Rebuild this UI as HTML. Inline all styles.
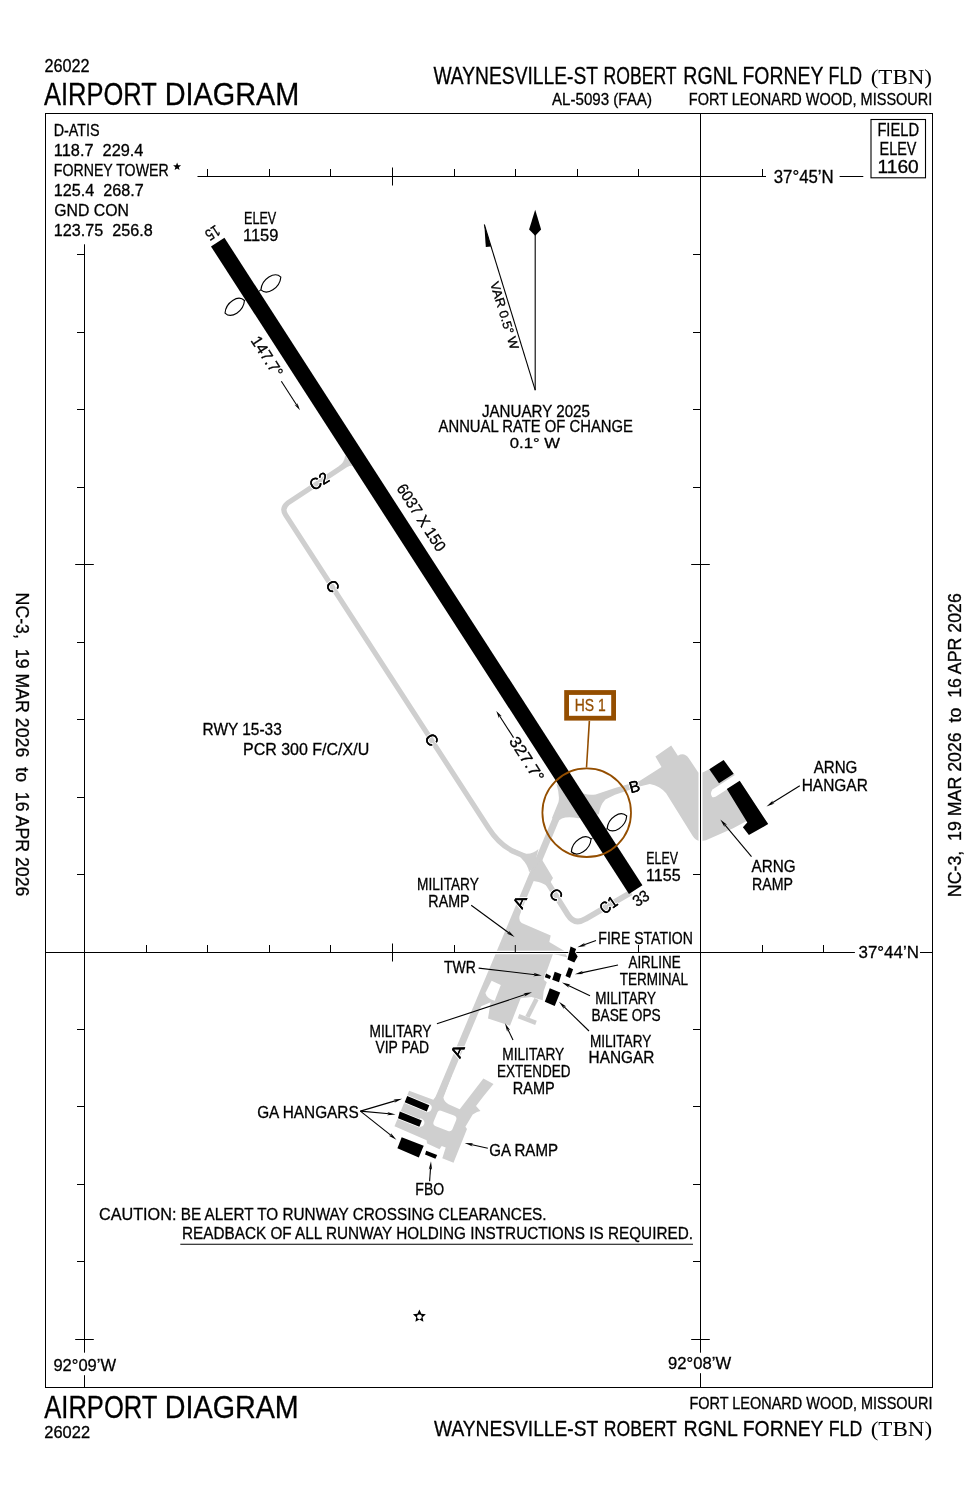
<!DOCTYPE html><html><head><meta charset="utf-8"><style>html,body{margin:0;padding:0;background:#fff}svg{display:block;will-change:transform}</style></head><body><svg width="978" height="1500" viewBox="0 0 978 1500">
<rect width="978" height="1500" fill="#fff"/>
<text x="44.38" y="72.10" font-size="17.44" font-family='"Liberation Sans", sans-serif' textLength="45.24" lengthAdjust="spacingAndGlyphs" fill="#000" stroke="#000" stroke-width="0.3" style="white-space:pre" >26022</text>
<text x="44.05" y="104.80" font-size="31.83" font-family='"Liberation Sans", sans-serif' textLength="112.73" lengthAdjust="spacingAndGlyphs" fill="#000" stroke="#000" stroke-width="0.3" style="white-space:pre" >AIRPORT</text>
<text x="164.63" y="104.80" font-size="31.83" font-family='"Liberation Sans", sans-serif' textLength="134.63" lengthAdjust="spacingAndGlyphs" fill="#000" stroke="#000" stroke-width="0.3" style="white-space:pre" >DIAGRAM</text>
<text x="433.42" y="84.00" font-size="23.26" font-family='"Liberation Sans", sans-serif' textLength="164.62" lengthAdjust="spacingAndGlyphs" fill="#000" stroke="#000" stroke-width="0.3" style="white-space:pre" >WAYNESVILLE-ST</text>
<text x="603.56" y="84.00" font-size="23.26" font-family='"Liberation Sans", sans-serif' textLength="73.04" lengthAdjust="spacingAndGlyphs" fill="#000" stroke="#000" stroke-width="0.3" style="white-space:pre" >ROBERT</text>
<text x="683.30" y="84.00" font-size="23.26" font-family='"Liberation Sans", sans-serif' textLength="54.35" lengthAdjust="spacingAndGlyphs" fill="#000" stroke="#000" stroke-width="0.3" style="white-space:pre" >RGNL</text>
<text x="742.51" y="84.00" font-size="23.26" font-family='"Liberation Sans", sans-serif' textLength="80.82" lengthAdjust="spacingAndGlyphs" fill="#000" stroke="#000" stroke-width="0.3" style="white-space:pre" >FORNEY</text>
<text x="828.55" y="84.00" font-size="23.26" font-family='"Liberation Sans", sans-serif' textLength="33.50" lengthAdjust="spacingAndGlyphs" fill="#000" stroke="#000" stroke-width="0.3" style="white-space:pre" >FLD</text>
<text x="870.69" y="84.00" font-size="21.68" font-family='"Liberation Serif", serif' textLength="61.32" lengthAdjust="spacingAndGlyphs" fill="#000"  style="white-space:pre" >(TBN)</text>
<text x="551.97" y="104.50" font-size="15.99" font-family='"Liberation Sans", sans-serif' textLength="99.96" lengthAdjust="spacingAndGlyphs" fill="#000" stroke="#000" stroke-width="0.3" style="white-space:pre" >AL-5093 (FAA)</text>
<text x="688.81" y="104.50" font-size="15.99" font-family='"Liberation Sans", sans-serif' textLength="243.52" lengthAdjust="spacingAndGlyphs" fill="#000" stroke="#000" stroke-width="0.3" style="white-space:pre" >FORT LEONARD WOOD, MISSOURI</text>
<text x="44.25" y="1417.80" font-size="31.83" font-family='"Liberation Sans", sans-serif' textLength="113.13" lengthAdjust="spacingAndGlyphs" fill="#000" stroke="#000" stroke-width="0.3" style="white-space:pre" >AIRPORT</text>
<text x="164.85" y="1417.80" font-size="31.83" font-family='"Liberation Sans", sans-serif' textLength="133.91" lengthAdjust="spacingAndGlyphs" fill="#000" stroke="#000" stroke-width="0.3" style="white-space:pre" >DIAGRAM</text>
<text x="44.37" y="1438.00" font-size="16.72" font-family='"Liberation Sans", sans-serif' textLength="45.65" lengthAdjust="spacingAndGlyphs" fill="#000" stroke="#000" stroke-width="0.3" style="white-space:pre" >26022</text>
<text x="689.42" y="1408.90" font-size="15.70" font-family='"Liberation Sans", sans-serif' textLength="243.12" lengthAdjust="spacingAndGlyphs" fill="#000" stroke="#000" stroke-width="0.3" style="white-space:pre" >FORT LEONARD WOOD, MISSOURI</text>
<text x="434.02" y="1435.50" font-size="22.67" font-family='"Liberation Sans", sans-serif' textLength="164.22" lengthAdjust="spacingAndGlyphs" fill="#000" stroke="#000" stroke-width="0.3" style="white-space:pre" >WAYNESVILLE-ST</text>
<text x="603.76" y="1435.50" font-size="22.67" font-family='"Liberation Sans", sans-serif' textLength="73.04" lengthAdjust="spacingAndGlyphs" fill="#000" stroke="#000" stroke-width="0.3" style="white-space:pre" >ROBERT</text>
<text x="683.50" y="1435.50" font-size="22.67" font-family='"Liberation Sans", sans-serif' textLength="54.35" lengthAdjust="spacingAndGlyphs" fill="#000" stroke="#000" stroke-width="0.3" style="white-space:pre" >RGNL</text>
<text x="742.71" y="1435.50" font-size="22.67" font-family='"Liberation Sans", sans-serif' textLength="80.82" lengthAdjust="spacingAndGlyphs" fill="#000" stroke="#000" stroke-width="0.3" style="white-space:pre" >FORNEY</text>
<text x="828.75" y="1435.50" font-size="22.67" font-family='"Liberation Sans", sans-serif' textLength="33.50" lengthAdjust="spacingAndGlyphs" fill="#000" stroke="#000" stroke-width="0.3" style="white-space:pre" >FLD</text>
<text x="870.69" y="1435.50" font-size="21.68" font-family='"Liberation Serif", serif' textLength="61.53" lengthAdjust="spacingAndGlyphs" fill="#000"  style="white-space:pre" >(TBN)</text>
<text transform="translate(16.00,594.00) rotate(90.00)" x="-1.45" y="0" font-size="18.90" font-family='"Liberation Sans", sans-serif' textLength="303.93" lengthAdjust="spacingAndGlyphs" fill="#000" style="white-space:pre" stroke="#000" stroke-width="0.3">NC-3,  19 MAR 2026  to  16 APR 2026</text>
<text transform="translate(961.00,895.70) rotate(-90.00)" x="-1.45" y="0" font-size="18.90" font-family='"Liberation Sans", sans-serif' textLength="303.93" lengthAdjust="spacingAndGlyphs" fill="#000" style="white-space:pre" stroke="#000" stroke-width="0.3">NC-3,  19 MAR 2026  to  16 APR 2026</text>
<rect x="45.5" y="113.5" width="887" height="1274" fill="none" stroke="#000" stroke-width="1"/>
<text x="53.65" y="136.30" font-size="16.72" font-family='"Liberation Sans", sans-serif' textLength="46.00" lengthAdjust="spacingAndGlyphs" fill="#000" stroke="#000" stroke-width="0.3" style="white-space:pre" >D-ATIS</text>
<text x="53.87" y="156.20" font-size="16.72" font-family='"Liberation Sans", sans-serif' textLength="89.60" lengthAdjust="spacingAndGlyphs" fill="#000" stroke="#000" stroke-width="0.3" style="white-space:pre" >118.7  229.4</text>
<text x="53.85" y="176.30" font-size="16.72" font-family='"Liberation Sans", sans-serif' textLength="114.81" lengthAdjust="spacingAndGlyphs" fill="#000" stroke="#000" stroke-width="0.3" style="white-space:pre" >FORNEY TOWER</text>
<text x="53.87" y="196.20" font-size="16.72" font-family='"Liberation Sans", sans-serif' textLength="89.95" lengthAdjust="spacingAndGlyphs" fill="#000" stroke="#000" stroke-width="0.3" style="white-space:pre" >125.4  268.7</text>
<text x="54.20" y="215.90" font-size="16.72" font-family='"Liberation Sans", sans-serif' textLength="74.69" lengthAdjust="spacingAndGlyphs" fill="#000" stroke="#000" stroke-width="0.3" style="white-space:pre" >GND CON</text>
<text x="53.87" y="236.10" font-size="16.72" font-family='"Liberation Sans", sans-serif' textLength="98.83" lengthAdjust="spacingAndGlyphs" fill="#000" stroke="#000" stroke-width="0.3" style="white-space:pre" >123.75  256.8</text>
<polygon points="177.10,162.40 178.16,165.14 181.09,165.30 178.81,167.16 179.57,170.00 177.10,168.40 174.63,170.00 175.39,167.16 173.11,165.30 176.04,165.14" fill="#000" />
<polygon points="419.40,1309.50 421.34,1313.63 425.87,1314.20 422.54,1317.32 423.40,1321.80 419.40,1319.60 415.40,1321.80 416.26,1317.32 412.93,1314.20 417.46,1313.63" fill="#000" />
<circle cx="419.4" cy="1316.8" r="2.4" fill="#fff"/>
<rect x="871" y="119.5" width="54.5" height="58.3" fill="none" stroke="#000" stroke-width="1.1"/>
<text x="877.40" y="136.20" font-size="17.88" font-family='"Liberation Sans", sans-serif' textLength="41.61" lengthAdjust="spacingAndGlyphs" fill="#000" stroke="#000" stroke-width="0.3" style="white-space:pre" >FIELD</text>
<text x="879.52" y="154.60" font-size="17.88" font-family='"Liberation Sans", sans-serif' textLength="36.85" lengthAdjust="spacingAndGlyphs" fill="#000" stroke="#000" stroke-width="0.3" style="white-space:pre" >ELEV</text>
<text x="877.59" y="173.00" font-size="17.88" font-family='"Liberation Sans", sans-serif' textLength="41.13" lengthAdjust="spacingAndGlyphs" fill="#000" stroke="#000" stroke-width="0.3" style="white-space:pre" >1160</text>
<line x1="197.50" y1="176.50" x2="766.00" y2="176.50" stroke="#000" stroke-width="1" />
<line x1="839.60" y1="176.50" x2="863.30" y2="176.50" stroke="#000" stroke-width="1" />
<text x="773.76" y="182.60" font-size="17.73" font-family='"Liberation Sans", sans-serif' textLength="60.01" lengthAdjust="spacingAndGlyphs" fill="#000" stroke="#000" stroke-width="0.3" style="white-space:pre" >37°45’N</text>
<line x1="207.50" y1="169.00" x2="207.50" y2="176.50" stroke="#000" stroke-width="1" />
<line x1="269.50" y1="169.00" x2="269.50" y2="176.50" stroke="#000" stroke-width="1" />
<line x1="330.50" y1="169.00" x2="330.50" y2="176.50" stroke="#000" stroke-width="1" />
<line x1="392.50" y1="167.50" x2="392.50" y2="185.50" stroke="#000" stroke-width="1" />
<line x1="454.50" y1="169.00" x2="454.50" y2="176.50" stroke="#000" stroke-width="1" />
<line x1="515.50" y1="169.00" x2="515.50" y2="176.50" stroke="#000" stroke-width="1" />
<line x1="577.50" y1="169.00" x2="577.50" y2="176.50" stroke="#000" stroke-width="1" />
<line x1="638.50" y1="169.00" x2="638.50" y2="176.50" stroke="#000" stroke-width="1" />
<line x1="762.50" y1="169.00" x2="762.50" y2="176.50" stroke="#000" stroke-width="1" />
<line x1="84.50" y1="244.30" x2="84.50" y2="1352.70" stroke="#000" stroke-width="1" />
<line x1="84.50" y1="1375.20" x2="84.50" y2="1387.50" stroke="#000" stroke-width="1" />
<line x1="700.50" y1="113.50" x2="700.50" y2="1352.70" stroke="#000" stroke-width="1" />
<line x1="700.50" y1="1373.20" x2="700.50" y2="1387.50" stroke="#000" stroke-width="1" />
<line x1="77.00" y1="254.50" x2="84.50" y2="254.50" stroke="#000" stroke-width="1" />
<line x1="693.00" y1="254.50" x2="700.50" y2="254.50" stroke="#000" stroke-width="1" />
<line x1="77.00" y1="332.50" x2="84.50" y2="332.50" stroke="#000" stroke-width="1" />
<line x1="693.00" y1="332.50" x2="700.50" y2="332.50" stroke="#000" stroke-width="1" />
<line x1="77.00" y1="409.50" x2="84.50" y2="409.50" stroke="#000" stroke-width="1" />
<line x1="693.00" y1="409.50" x2="700.50" y2="409.50" stroke="#000" stroke-width="1" />
<line x1="77.00" y1="487.50" x2="84.50" y2="487.50" stroke="#000" stroke-width="1" />
<line x1="693.00" y1="487.50" x2="700.50" y2="487.50" stroke="#000" stroke-width="1" />
<line x1="75.20" y1="564.50" x2="93.80" y2="564.50" stroke="#000" stroke-width="1" />
<line x1="691.20" y1="564.50" x2="709.80" y2="564.50" stroke="#000" stroke-width="1" />
<line x1="77.00" y1="642.50" x2="84.50" y2="642.50" stroke="#000" stroke-width="1" />
<line x1="693.00" y1="642.50" x2="700.50" y2="642.50" stroke="#000" stroke-width="1" />
<line x1="77.00" y1="719.50" x2="84.50" y2="719.50" stroke="#000" stroke-width="1" />
<line x1="693.00" y1="719.50" x2="700.50" y2="719.50" stroke="#000" stroke-width="1" />
<line x1="77.00" y1="797.50" x2="84.50" y2="797.50" stroke="#000" stroke-width="1" />
<line x1="693.00" y1="797.50" x2="700.50" y2="797.50" stroke="#000" stroke-width="1" />
<line x1="77.00" y1="874.50" x2="84.50" y2="874.50" stroke="#000" stroke-width="1" />
<line x1="693.00" y1="874.50" x2="700.50" y2="874.50" stroke="#000" stroke-width="1" />
<line x1="77.00" y1="1029.50" x2="84.50" y2="1029.50" stroke="#000" stroke-width="1" />
<line x1="693.00" y1="1029.50" x2="700.50" y2="1029.50" stroke="#000" stroke-width="1" />
<line x1="77.00" y1="1106.50" x2="84.50" y2="1106.50" stroke="#000" stroke-width="1" />
<line x1="693.00" y1="1106.50" x2="700.50" y2="1106.50" stroke="#000" stroke-width="1" />
<line x1="77.00" y1="1184.50" x2="84.50" y2="1184.50" stroke="#000" stroke-width="1" />
<line x1="693.00" y1="1184.50" x2="700.50" y2="1184.50" stroke="#000" stroke-width="1" />
<line x1="77.00" y1="1261.50" x2="84.50" y2="1261.50" stroke="#000" stroke-width="1" />
<line x1="693.00" y1="1261.50" x2="700.50" y2="1261.50" stroke="#000" stroke-width="1" />
<line x1="75.20" y1="1339.50" x2="93.80" y2="1339.50" stroke="#000" stroke-width="1" />
<line x1="691.20" y1="1339.50" x2="709.80" y2="1339.50" stroke="#000" stroke-width="1" />
<line x1="45.50" y1="952.50" x2="854.90" y2="952.50" stroke="#000" stroke-width="1" />
<line x1="920.00" y1="952.50" x2="932.00" y2="952.50" stroke="#000" stroke-width="1" />
<text x="858.56" y="958.20" font-size="16.72" font-family='"Liberation Sans", sans-serif' textLength="60.32" lengthAdjust="spacingAndGlyphs" fill="#000" stroke="#000" stroke-width="0.3" style="white-space:pre" >37°44’N</text>
<line x1="146.50" y1="945.00" x2="146.50" y2="952.50" stroke="#000" stroke-width="1" />
<line x1="207.50" y1="945.00" x2="207.50" y2="952.50" stroke="#000" stroke-width="1" />
<line x1="269.50" y1="945.00" x2="269.50" y2="952.50" stroke="#000" stroke-width="1" />
<line x1="330.50" y1="945.00" x2="330.50" y2="952.50" stroke="#000" stroke-width="1" />
<line x1="392.50" y1="943.50" x2="392.50" y2="961.50" stroke="#000" stroke-width="1" />
<line x1="454.50" y1="945.00" x2="454.50" y2="952.50" stroke="#000" stroke-width="1" />
<line x1="515.50" y1="945.00" x2="515.50" y2="952.50" stroke="#000" stroke-width="1" />
<line x1="638.50" y1="945.00" x2="638.50" y2="952.50" stroke="#000" stroke-width="1" />
<line x1="762.50" y1="945.00" x2="762.50" y2="952.50" stroke="#000" stroke-width="1" />
<line x1="823.50" y1="945.00" x2="823.50" y2="952.50" stroke="#000" stroke-width="1" />
<text x="53.43" y="1370.60" font-size="17.30" font-family='"Liberation Sans", sans-serif' textLength="62.63" lengthAdjust="spacingAndGlyphs" fill="#000" stroke="#000" stroke-width="0.3" style="white-space:pre" >92°09’W</text>
<text x="668.12" y="1369.00" font-size="16.57" font-family='"Liberation Sans", sans-serif' textLength="62.94" lengthAdjust="spacingAndGlyphs" fill="#000" stroke="#000" stroke-width="0.3" style="white-space:pre" >92°08’W</text>
<path d="M 351.5,461 L 287.6,503.2 Q 281.3,508.2 285.6,514.9 L 488.5,828 Q 500,846 516,852.5 L 536,861" fill="none" stroke="#cfcfcf" stroke-width="5.2" stroke-linejoin="round" stroke-linecap="butt"/>
<path d="M 566.00,795 L 437.18,1102" fill="none" stroke="#cfcfcf" stroke-width="7.0" stroke-linejoin="round" stroke-linecap="butt"/>
<path d="M 536,864 L 568,915 Q 574.8,925.5 585.5,918.9 L 631,892.5" fill="none" stroke="#cfcfcf" stroke-width="5.8" stroke-linejoin="round" stroke-linecap="butt"/>
<path d="M 556.4,783.9 Q 560,795 558.5,802 L 552,818 L 557.2,822.4 Q 562,815 578.4,818.3 L 598.9,814.2 Q 600,805 605.4,799.4 L 615,794.7 L 639.5,786.5 L 649.8,784 Q 660,786 666.1,793.2 L 692.7,836.1 Q 695.5,840.5 699.9,841.2 L 706,840.2 L 733.2,828.2 L 746.1,821.3 L 768.2,824.1 L 739.7,780.8 L 733.7,773.7 L 709.3,769.3 L 699.9,773.7 L 697.8,771.7 L 688.6,757.9 Q 684,752 677.9,755.8 L 671.2,745.6 L 655.4,756.4 L 661.5,767.1 L 639.5,780.9 L 615,788.1 L 595.6,794.5 Q 589,795.5 584.2,793.7 Z" fill="#cfcfcf"/>
<path d="M 345.2,455.2 Q 344.5,462.5 338.6,466.4 L 348.2,466.4 Q 349.6,465.5 352.3,465.8 Z" fill="#cfcfcf"/>
<path d="M 514,849 L 523.4,853.4 Q 532,855 538.5,849 L 534,866 L 529.1,872.2 Q 528,865 521.5,858.5 Z" fill="#cfcfcf"/>
<path d="M 525,885 Q 531,879.5 536,881.4 Q 541,882 548,886.4 L 553,878 L 541,858 Z" fill="#cfcfcf"/>
<path d="M 519.85,905 L 520.71,912.5 Q 517.5,920 521.7,923.1 L 550.7,935.5 L 549.3,941.9 L 564,950.7 L 567.5,957.5 L 558,955 L 553,953.9 L 543.7,979.8 L 546.8,982.3 L 543.7,991 L 542.7,1000.2 L 531.5,997.1 L 520.7,998.2 L 510,1025.8 L 488,1018.6 L 490.6,1002.3 L 481.14,1006.3 L 477.34,1006.3 L 500.96,950 Z" fill="#cfcfcf"/>
<path d="M 536.5,999 L 527.4,1017" fill="none" stroke="#cfcfcf" stroke-width="4.6" stroke-linejoin="round" stroke-linecap="butt"/>
<path d="M 518.5,1016.2 L 536,1022.8" fill="none" stroke="#cfcfcf" stroke-width="4.6" stroke-linejoin="round" stroke-linecap="butt"/>
<path d="M 491.6,980.8 L 500.8,984.9 L 494.7,1000.7 Q 487,999 485.4,993.1 Z" fill="#fff"/>
<path d="M 409.1,1090.7 L 433.3,1099.7 Q 436,1097 437.2,1094.1 L 446.2,1075 L 451.9,1075 L 443.4,1097.5 Q 444,1101.5 448.5,1104.2 L 459.7,1109.3 L 483.4,1078.4 L 493.5,1084 L 483.9,1095.8 L 476,1105.9 L 480.5,1111 L 477,1112 L 472.7,1114.4 L 465.4,1126.7 L 467,1129 L 453.5,1162.7 L 442.3,1158.2 L 445.7,1147.5 L 441.7,1145.9 L 439.5,1149.2 L 427.1,1143.6 L 426.6,1140.2 L 394.5,1126.2 Z" fill="#cfcfcf"/>
<path d="M 441,1110.8 L 454,1115.6 Q 457.3,1117 456.2,1120 L 452.3,1129.5 Q 451,1132 448,1131 L 435.8,1126.2 Q 432.6,1125 433.5,1122 L 437.5,1112.3 Q 438.6,1110 441,1110.8 Z" fill="#fff"/>
<line x1="700.50" y1="740.00" x2="700.50" y2="850.00" stroke="#fff" stroke-width="4" />
<line x1="700.50" y1="740.00" x2="700.50" y2="850.00" stroke="#000" stroke-width="1" />
<line x1="460.00" y1="952.50" x2="580.00" y2="952.50" stroke="#fff" stroke-width="3.5" />
<line x1="460.00" y1="952.50" x2="580.00" y2="952.50" stroke="#000" stroke-width="1" />
<line x1="515.30" y1="945.00" x2="515.30" y2="952.50" stroke="#000" stroke-width="1" />
<polygon points="224.42,237.76 210.98,246.44 628.98,894.04 642.42,885.36" fill="#000" />
<path d="M 225.05,313.05 C 231.27,319.28 243.69,311.26 244.46,300.52 C 238.24,294.30 225.82,302.32 225.05,313.05 Z" fill="none" stroke="#000" stroke-width="1.15" stroke-linejoin="miter" stroke-miterlimit="10"/>
<path d="M 260.93,289.90 C 267.19,296.09 279.93,287.87 280.84,277.04 C 274.58,270.85 261.84,279.07 260.93,289.90 Z" fill="none" stroke="#000" stroke-width="1.15" stroke-linejoin="miter" stroke-miterlimit="10"/>
<line x1="244.46" y1="300.52" x2="245.47" y2="299.87" stroke="#000" stroke-width="1" />
<line x1="258.91" y1="291.20" x2="260.93" y2="289.90" stroke="#000" stroke-width="1" />
<path d="M 571.34,851.76 C 577.58,857.96 590.22,849.81 591.08,839.01 C 584.84,832.81 572.20,840.96 571.34,851.76 Z" fill="none" stroke="#000" stroke-width="1.15" stroke-linejoin="miter" stroke-miterlimit="10"/>
<path d="M 607.21,828.60 C 613.44,834.82 625.91,826.77 626.70,816.02 C 620.48,809.80 608.01,817.85 607.21,828.60 Z" fill="none" stroke="#000" stroke-width="1.15" stroke-linejoin="miter" stroke-miterlimit="10"/>
<line x1="591.08" y1="839.01" x2="592.76" y2="837.93" stroke="#000" stroke-width="1" />
<line x1="606.20" y1="829.25" x2="607.21" y2="828.60" stroke="#000" stroke-width="1" />
<text transform="translate(214.82,224.92) rotate(147.16)" x="-0.97" y="0" font-size="15.99" font-family='"Liberation Sans", sans-serif' textLength="14.21" lengthAdjust="spacingAndGlyphs" fill="#000" style="white-space:pre" stroke="#000" stroke-width="0.3">15</text>
<text transform="translate(637.38,907.06) rotate(-32.84)" x="-0.56" y="0" font-size="15.99" font-family='"Liberation Sans", sans-serif' textLength="16.41" lengthAdjust="spacingAndGlyphs" fill="#000" style="white-space:pre" stroke="#000" stroke-width="0.3">33</text>
<text transform="translate(250.90,341.48) rotate(57.16)" x="-1.18" y="0" font-size="15.99" font-family='"Liberation Sans", sans-serif' textLength="45.12" lengthAdjust="spacingAndGlyphs" fill="#000" style="white-space:pre" stroke="#000" stroke-width="0.3">147.7°</text>
<line x1="281.32" y1="381.23" x2="296.99" y2="405.52" stroke="#000" stroke-width="1.1" />
<polygon points="299.98,410.14 294.48,404.76 297.10,405.68 297.34,402.91" fill="#000" />
<text transform="translate(396.36,488.84) rotate(57.16)" x="-0.76" y="0" font-size="15.99" font-family='"Liberation Sans", sans-serif' textLength="76.85" lengthAdjust="spacingAndGlyphs" fill="#000" style="white-space:pre" stroke="#000" stroke-width="0.3">6037 X 150</text>
<text transform="translate(508.87,741.51) rotate(57.16)" x="-0.66" y="0" font-size="15.99" font-family='"Liberation Sans", sans-serif' textLength="50.20" lengthAdjust="spacingAndGlyphs" fill="#000" style="white-space:pre" stroke="#000" stroke-width="0.3">327.7°</text>
<line x1="513.53" y1="737.67" x2="499.27" y2="715.57" stroke="#000" stroke-width="1.1" />
<polygon points="496.28,710.95 501.78,716.33 499.16,715.41 498.92,718.18" fill="#000" />
<text transform="translate(314.50,490.90) rotate(-32.84)" x="-0.79" y="0" font-size="15.99" font-family='"Liberation Sans", sans-serif' textLength="19.98" lengthAdjust="spacingAndGlyphs" fill="#000" style="white-space:pre" stroke="#fff" stroke-width="2.2" paint-order="stroke">C2</text>
<text transform="translate(314.50,490.90) rotate(-32.84)" x="-0.79" y="0" font-size="15.99" font-family='"Liberation Sans", sans-serif' textLength="19.98" lengthAdjust="spacingAndGlyphs" fill="#000" style="white-space:pre" stroke="#000" stroke-width="0.3">C2</text>
<text transform="translate(325.47,585.18) rotate(57.16)" x="-0.80" y="0" font-size="15.99" font-family='"Liberation Sans", sans-serif' textLength="11.40" lengthAdjust="spacingAndGlyphs" fill="#000" style="white-space:pre" stroke="#fff" stroke-width="2.2" paint-order="stroke">C</text>
<text transform="translate(325.47,585.18) rotate(57.16)" x="-0.80" y="0" font-size="15.99" font-family='"Liberation Sans", sans-serif' textLength="11.40" lengthAdjust="spacingAndGlyphs" fill="#000" style="white-space:pre" stroke="#000" stroke-width="0.3">C</text>
<text transform="translate(424.47,738.78) rotate(57.16)" x="-0.80" y="0" font-size="15.99" font-family='"Liberation Sans", sans-serif' textLength="11.40" lengthAdjust="spacingAndGlyphs" fill="#000" style="white-space:pre" stroke="#fff" stroke-width="2.2" paint-order="stroke">C</text>
<text transform="translate(424.47,738.78) rotate(57.16)" x="-0.80" y="0" font-size="15.99" font-family='"Liberation Sans", sans-serif' textLength="11.40" lengthAdjust="spacingAndGlyphs" fill="#000" style="white-space:pre" stroke="#000" stroke-width="0.3">C</text>
<text transform="translate(548.80,894.02) rotate(53.00)" x="-0.80" y="0" font-size="15.99" font-family='"Liberation Sans", sans-serif' textLength="11.40" lengthAdjust="spacingAndGlyphs" fill="#000" style="white-space:pre" stroke="#fff" stroke-width="2.2" paint-order="stroke">C</text>
<text transform="translate(548.80,894.02) rotate(53.00)" x="-0.80" y="0" font-size="15.99" font-family='"Liberation Sans", sans-serif' textLength="11.40" lengthAdjust="spacingAndGlyphs" fill="#000" style="white-space:pre" stroke="#000" stroke-width="0.3">C</text>
<text transform="translate(522.18,909.65) rotate(-66.00)" x="-0.04" y="0" font-size="15.99" font-family='"Liberation Sans", sans-serif' textLength="12.57" lengthAdjust="spacingAndGlyphs" fill="#000" style="white-space:pre" stroke="#fff" stroke-width="2.2" paint-order="stroke">A</text>
<text transform="translate(522.18,909.65) rotate(-66.00)" x="-0.04" y="0" font-size="15.99" font-family='"Liberation Sans", sans-serif' textLength="12.57" lengthAdjust="spacingAndGlyphs" fill="#000" style="white-space:pre" stroke="#000" stroke-width="0.3">A</text>
<text transform="translate(459.98,1058.85) rotate(-66.00)" x="-0.04" y="0" font-size="15.99" font-family='"Liberation Sans", sans-serif' textLength="12.57" lengthAdjust="spacingAndGlyphs" fill="#000" style="white-space:pre" stroke="#fff" stroke-width="2.2" paint-order="stroke">A</text>
<text transform="translate(459.98,1058.85) rotate(-66.00)" x="-0.04" y="0" font-size="15.99" font-family='"Liberation Sans", sans-serif' textLength="12.57" lengthAdjust="spacingAndGlyphs" fill="#000" style="white-space:pre" stroke="#000" stroke-width="0.3">A</text>
<text transform="translate(631.92,792.81) rotate(-15.00)" x="-1.31" y="0" font-size="15.99" font-family='"Liberation Sans", sans-serif' textLength="10.65" lengthAdjust="spacingAndGlyphs" fill="#000" style="white-space:pre" stroke="#fff" stroke-width="2.2" paint-order="stroke">B</text>
<text transform="translate(631.92,792.81) rotate(-15.00)" x="-1.31" y="0" font-size="15.99" font-family='"Liberation Sans", sans-serif' textLength="10.65" lengthAdjust="spacingAndGlyphs" fill="#000" style="white-space:pre" stroke="#000" stroke-width="0.3">B</text>
<text transform="translate(604.90,914.24) rotate(-35.00)" x="-0.71" y="0" font-size="15.99" font-family='"Liberation Sans", sans-serif' textLength="17.89" lengthAdjust="spacingAndGlyphs" fill="#000" style="white-space:pre" stroke="#fff" stroke-width="2.2" paint-order="stroke">C1</text>
<text transform="translate(604.90,914.24) rotate(-35.00)" x="-0.71" y="0" font-size="15.99" font-family='"Liberation Sans", sans-serif' textLength="17.89" lengthAdjust="spacingAndGlyphs" fill="#000" style="white-space:pre" stroke="#000" stroke-width="0.3">C1</text>
<text x="243.96" y="223.70" font-size="16.57" font-family='"Liberation Sans", sans-serif' textLength="32.29" lengthAdjust="spacingAndGlyphs" fill="#000" stroke="#000" stroke-width="0.3" style="white-space:pre" >ELEV</text>
<text x="242.99" y="240.90" font-size="16.28" font-family='"Liberation Sans", sans-serif' textLength="35.47" lengthAdjust="spacingAndGlyphs" fill="#000" stroke="#000" stroke-width="0.3" style="white-space:pre" >1159</text>
<text x="646.28" y="863.70" font-size="16.57" font-family='"Liberation Sans", sans-serif' textLength="31.67" lengthAdjust="spacingAndGlyphs" fill="#000" stroke="#000" stroke-width="0.3" style="white-space:pre" >ELEV</text>
<text x="646.12" y="880.90" font-size="16.28" font-family='"Liberation Sans", sans-serif' textLength="34.53" lengthAdjust="spacingAndGlyphs" fill="#000" stroke="#000" stroke-width="0.3" style="white-space:pre" >1155</text>
<line x1="535.20" y1="233.00" x2="535.20" y2="390.20" stroke="#000" stroke-width="1.1" />
<polygon points="535.20,209.70 529.10,229.40 535.20,235.80 541.10,229.40" fill="#000" />
<line x1="535.20" y1="390.20" x2="484.30" y2="224.50" stroke="#000" stroke-width="1.1" />
<polygon points="484.30,224.50 485.80,247.00 491.00,246.50" fill="#000" />
<text transform="translate(490.00,283.30) rotate(72.90)" x="-0.06" y="0" font-size="12.65" font-family='"Liberation Sans", sans-serif' textLength="70.20" lengthAdjust="spacingAndGlyphs" fill="#000" style="white-space:pre" stroke="#000" stroke-width="0.3">VAR 0.5° W</text>
<text x="481.96" y="416.50" font-size="16.13" font-family='"Liberation Sans", sans-serif' textLength="107.97" lengthAdjust="spacingAndGlyphs" fill="#000" stroke="#000" stroke-width="0.3" style="white-space:pre" >JANUARY 2025</text>
<text x="438.57" y="432.10" font-size="15.99" font-family='"Liberation Sans", sans-serif' textLength="194.36" lengthAdjust="spacingAndGlyphs" fill="#000" stroke="#000" stroke-width="0.3" style="white-space:pre" >ANNUAL RATE OF CHANGE</text>
<text x="509.85" y="447.60" font-size="15.55" font-family='"Liberation Sans", sans-serif' textLength="50.21" lengthAdjust="spacingAndGlyphs" fill="#000" stroke="#000" stroke-width="0.3" style="white-space:pre" >0.1° W</text>
<text x="202.54" y="734.90" font-size="16.13" font-family='"Liberation Sans", sans-serif' textLength="79.23" lengthAdjust="spacingAndGlyphs" fill="#000" stroke="#000" stroke-width="0.3" style="white-space:pre" >RWY 15-33</text>
<text x="242.99" y="755.10" font-size="16.86" font-family='"Liberation Sans", sans-serif' textLength="126.25" lengthAdjust="spacingAndGlyphs" fill="#000" stroke="#000" stroke-width="0.3" style="white-space:pre" >PCR 300 F/C/X/U</text>
<rect x="566.6" y="692.5" width="47" height="25.7" fill="#fff" stroke="#944e00" stroke-width="4.8"/>
<text x="574.76" y="711.20" font-size="16.86" font-family='"Liberation Sans", sans-serif' textLength="30.92" lengthAdjust="spacingAndGlyphs" fill="#944e00" stroke="#944e00" stroke-width="0.3" style="white-space:pre" >HS 1</text>
<line x1="589.40" y1="720.90" x2="586.50" y2="767.50" stroke="#944e00" stroke-width="1.6" />
<circle cx="586.7" cy="812.7" r="44.3" fill="none" stroke="#944e00" stroke-width="1.8"/>
<polygon points="709.30,769.30 723.60,759.90 733.70,773.70 719.00,783.30" fill="#000" />
<path d="M 715.5,796.8 L 741,780.5 L 736.5,774 L 712.5,789.6 Q 709.5,793.5 712.2,796.9 Q 713.5,797.7 715.5,796.8 Z" fill="#fff"/>
<polygon points="726.80,789.10 739.70,780.80 768.20,824.10 748.90,835.10 742.90,827.30 747.30,822.50" fill="#000" />
<polygon points="570.60,946.60 576.10,949.10 575.00,952.00 577.70,956.40 574.30,962.60 567.50,959.50" fill="#000" stroke="#fff" stroke-width="1.6" paint-order="stroke" stroke-linejoin="miter"/>
<polygon points="568.80,967.20 573.10,969.30 570.00,977.90 565.50,976.10" fill="#000" stroke="#fff" stroke-width="1.6" paint-order="stroke" stroke-linejoin="miter"/>
<polygon points="546.10,973.60 551.00,976.10 549.80,979.10 544.80,977.30" fill="#000" stroke="#fff" stroke-width="1.6" paint-order="stroke" stroke-linejoin="miter"/>
<polygon points="554.70,971.80 561.40,974.20 559.00,982.20 552.20,979.80" fill="#000" stroke="#fff" stroke-width="1.6" paint-order="stroke" stroke-linejoin="miter"/>
<polygon points="549.80,988.30 560.20,992.60 554.70,1006.10 544.80,1001.80" fill="#000" stroke="#fff" stroke-width="1.6" paint-order="stroke" stroke-linejoin="miter"/>
<path d="M 427.5,1103 Q 433,1105 431.5,1109 Q 430,1113 425,1111.5 Z" fill="#fff"/>
<path d="M 420.3,1118 Q 425.5,1120 424.2,1124 Q 423,1128 418,1126 Z" fill="#fff"/>
<polygon points="407.20,1096.10 429.30,1105.30 426.80,1111.40 404.70,1102.20" fill="#000" stroke="#fff" stroke-width="1.6" paint-order="stroke" stroke-linejoin="miter"/>
<polygon points="399.80,1111.40 421.90,1120.60 419.40,1126.70 398.00,1118.20" fill="#000" stroke="#fff" stroke-width="1.6" paint-order="stroke" stroke-linejoin="miter"/>
<polygon points="401.70,1137.20 423.70,1145.80 418.80,1157.40 397.40,1148.20" fill="#000" stroke="#fff" stroke-width="1.6" paint-order="stroke" stroke-linejoin="miter"/>
<polygon points="426.20,1150.70 437.20,1155.00 435.40,1158.70 425.00,1154.40" fill="#000" stroke="#fff" stroke-width="1.6" paint-order="stroke" stroke-linejoin="miter"/>
<text x="813.67" y="772.90" font-size="15.84" font-family='"Liberation Sans", sans-serif' textLength="43.66" lengthAdjust="spacingAndGlyphs" fill="#000" stroke="#000" stroke-width="0.3" style="white-space:pre" >ARNG</text>
<text x="801.73" y="791.20" font-size="15.99" font-family='"Liberation Sans", sans-serif' textLength="66.08" lengthAdjust="spacingAndGlyphs" fill="#000" stroke="#000" stroke-width="0.3" style="white-space:pre" >HANGAR</text>
<line x1="799.80" y1="785.80" x2="772.02" y2="803.07" stroke="#000" stroke-width="1.1" />
<polygon points="766.50,806.50 772.82,800.57 771.85,803.17 774.62,803.46" fill="#000" />
<text x="751.47" y="871.70" font-size="15.84" font-family='"Liberation Sans", sans-serif' textLength="44.07" lengthAdjust="spacingAndGlyphs" fill="#000" stroke="#000" stroke-width="0.3" style="white-space:pre" >ARNG</text>
<text x="752.04" y="889.60" font-size="15.84" font-family='"Liberation Sans", sans-serif' textLength="40.91" lengthAdjust="spacingAndGlyphs" fill="#000" stroke="#000" stroke-width="0.3" style="white-space:pre" >RAMP</text>
<line x1="751.50" y1="856.60" x2="724.48" y2="824.38" stroke="#000" stroke-width="1.1" />
<polygon points="720.30,819.40 727.06,824.82 724.35,824.23 724.46,827.01" fill="#000" />
<text x="417.00" y="890.00" font-size="15.99" font-family='"Liberation Sans", sans-serif' textLength="61.90" lengthAdjust="spacingAndGlyphs" fill="#000" stroke="#000" stroke-width="0.3" style="white-space:pre" >MILITARY</text>
<text x="428.33" y="906.80" font-size="15.84" font-family='"Liberation Sans", sans-serif' textLength="41.22" lengthAdjust="spacingAndGlyphs" fill="#000" stroke="#000" stroke-width="0.3" style="white-space:pre" >RAMP</text>
<line x1="471.20" y1="905.20" x2="509.36" y2="933.25" stroke="#000" stroke-width="1.1" />
<polygon points="514.60,937.10 506.74,933.44 509.52,933.37 508.76,930.70" fill="#000" />
<text x="598.37" y="944.00" font-size="15.99" font-family='"Liberation Sans", sans-serif' textLength="94.54" lengthAdjust="spacingAndGlyphs" fill="#000" stroke="#000" stroke-width="0.3" style="white-space:pre" >FIRE STATION</text>
<line x1="596.00" y1="940.50" x2="583.52" y2="945.00" stroke="#000" stroke-width="1.1" />
<polygon points="577.40,947.20 584.82,942.72 583.33,945.06 585.97,945.92" fill="#000" />
<text x="628.47" y="967.70" font-size="15.99" font-family='"Liberation Sans", sans-serif' textLength="52.10" lengthAdjust="spacingAndGlyphs" fill="#000" stroke="#000" stroke-width="0.3" style="white-space:pre" >AIRLINE</text>
<text x="619.70" y="984.80" font-size="15.99" font-family='"Liberation Sans", sans-serif' textLength="68.25" lengthAdjust="spacingAndGlyphs" fill="#000" stroke="#000" stroke-width="0.3" style="white-space:pre" >TERMINAL</text>
<line x1="618.00" y1="965.00" x2="581.26" y2="972.84" stroke="#000" stroke-width="1.1" />
<polygon points="574.90,974.20 582.86,970.76 581.06,972.88 583.57,974.09" fill="#000" />
<text x="443.98" y="972.70" font-size="15.99" font-family='"Liberation Sans", sans-serif' textLength="31.97" lengthAdjust="spacingAndGlyphs" fill="#000" stroke="#000" stroke-width="0.3" style="white-space:pre" >TWR</text>
<line x1="478.60" y1="968.10" x2="535.34" y2="974.74" stroke="#000" stroke-width="1.1" />
<polygon points="541.80,975.50 533.16,976.20 535.54,974.77 533.56,972.82" fill="#000" />
<text x="595.22" y="1003.70" font-size="15.99" font-family='"Liberation Sans", sans-serif' textLength="60.87" lengthAdjust="spacingAndGlyphs" fill="#000" stroke="#000" stroke-width="0.3" style="white-space:pre" >MILITARY</text>
<text x="591.48" y="1020.90" font-size="15.99" font-family='"Liberation Sans", sans-serif' textLength="69.15" lengthAdjust="spacingAndGlyphs" fill="#000" stroke="#000" stroke-width="0.3" style="white-space:pre" >BASE OPS</text>
<line x1="590.00" y1="995.70" x2="567.88" y2="985.27" stroke="#000" stroke-width="1.1" />
<polygon points="562.00,982.50 570.41,984.59 567.70,985.19 568.96,987.66" fill="#000" />
<text x="369.50" y="1036.50" font-size="15.99" font-family='"Liberation Sans", sans-serif' textLength="62.00" lengthAdjust="spacingAndGlyphs" fill="#000" stroke="#000" stroke-width="0.3" style="white-space:pre" >MILITARY</text>
<text x="375.44" y="1053.20" font-size="15.70" font-family='"Liberation Sans", sans-serif' textLength="53.61" lengthAdjust="spacingAndGlyphs" fill="#000" stroke="#000" stroke-width="0.3" style="white-space:pre" >VIP PAD</text>
<line x1="436.90" y1="1023.80" x2="525.83" y2="994.34" stroke="#000" stroke-width="1.1" />
<polygon points="532.00,992.30 524.47,996.59 526.02,994.28 523.40,993.36" fill="#000" />
<text x="589.91" y="1047.10" font-size="15.99" font-family='"Liberation Sans", sans-serif' textLength="61.38" lengthAdjust="spacingAndGlyphs" fill="#000" stroke="#000" stroke-width="0.3" style="white-space:pre" >MILITARY</text>
<text x="588.54" y="1063.40" font-size="15.84" font-family='"Liberation Sans", sans-serif' textLength="65.77" lengthAdjust="spacingAndGlyphs" fill="#000" stroke="#000" stroke-width="0.3" style="white-space:pre" >HANGAR</text>
<line x1="589.00" y1="1031.00" x2="563.66" y2="1006.33" stroke="#000" stroke-width="1.1" />
<polygon points="559.00,1001.80 566.28,1006.51 563.51,1006.19 563.91,1008.95" fill="#000" />
<text x="502.20" y="1059.60" font-size="15.99" font-family='"Liberation Sans", sans-serif' textLength="62.10" lengthAdjust="spacingAndGlyphs" fill="#000" stroke="#000" stroke-width="0.3" style="white-space:pre" >MILITARY</text>
<text x="497.09" y="1076.80" font-size="15.99" font-family='"Liberation Sans", sans-serif' textLength="73.45" lengthAdjust="spacingAndGlyphs" fill="#000" stroke="#000" stroke-width="0.3" style="white-space:pre" >EXTENDED</text>
<text x="512.81" y="1093.50" font-size="15.84" font-family='"Liberation Sans", sans-serif' textLength="41.96" lengthAdjust="spacingAndGlyphs" fill="#000" stroke="#000" stroke-width="0.3" style="white-space:pre" >RAMP</text>
<line x1="513.00" y1="1040.00" x2="507.81" y2="1029.16" stroke="#000" stroke-width="1.1" />
<polygon points="505.00,1023.30 510.21,1030.23 507.72,1028.98 507.14,1031.70" fill="#000" />
<text x="257.13" y="1117.60" font-size="15.99" font-family='"Liberation Sans", sans-serif' textLength="101.57" lengthAdjust="spacingAndGlyphs" fill="#000" stroke="#000" stroke-width="0.3" style="white-space:pre" >GA HANGARS</text>
<line x1="360.40" y1="1111.10" x2="395.87" y2="1100.64" stroke="#000" stroke-width="1.1" />
<polygon points="402.10,1098.80 394.43,1102.84 396.06,1100.58 393.47,1099.57" fill="#000" />
<line x1="360.40" y1="1111.10" x2="389.13" y2="1113.79" stroke="#000" stroke-width="1.1" />
<polygon points="395.60,1114.40 386.98,1115.30 389.33,1113.81 387.30,1111.91" fill="#000" />
<line x1="360.40" y1="1111.10" x2="391.31" y2="1135.66" stroke="#000" stroke-width="1.1" />
<polygon points="396.40,1139.70 388.69,1135.74 391.47,1135.78 390.80,1133.08" fill="#000" />
<text x="489.25" y="1156.00" font-size="16.28" font-family='"Liberation Sans", sans-serif' textLength="68.84" lengthAdjust="spacingAndGlyphs" fill="#000" stroke="#000" stroke-width="0.3" style="white-space:pre" >GA RAMP</text>
<line x1="487.80" y1="1148.30" x2="471.04" y2="1144.45" stroke="#000" stroke-width="1.1" />
<polygon points="464.70,1143.00 473.36,1143.24 470.84,1144.41 472.60,1146.56" fill="#000" />
<text x="415.35" y="1194.70" font-size="16.57" font-family='"Liberation Sans", sans-serif' textLength="28.82" lengthAdjust="spacingAndGlyphs" fill="#000" stroke="#000" stroke-width="0.3" style="white-space:pre" >FBO</text>
<line x1="429.60" y1="1181.30" x2="430.55" y2="1167.78" stroke="#000" stroke-width="1.1" />
<polygon points="431.00,1161.30 432.10,1169.90 430.56,1167.58 428.71,1169.66" fill="#000" />
<text x="98.98" y="1219.90" font-size="16.86" font-family='"Liberation Sans", sans-serif' textLength="77.50" lengthAdjust="spacingAndGlyphs" fill="#000" stroke="#000" stroke-width="0.3" style="white-space:pre" >CAUTION:</text>
<text x="180.76" y="1219.90" font-size="16.86" font-family='"Liberation Sans", sans-serif' textLength="365.82" lengthAdjust="spacingAndGlyphs" fill="#000" stroke="#000" stroke-width="0.3" style="white-space:pre" >BE ALERT TO RUNWAY CROSSING CLEARANCES.</text>
<text x="182.05" y="1239.00" font-size="16.86" font-family='"Liberation Sans", sans-serif' textLength="510.93" lengthAdjust="spacingAndGlyphs" fill="#000" stroke="#000" stroke-width="0.3" style="white-space:pre" >READBACK OF ALL RUNWAY HOLDING INSTRUCTIONS IS REQUIRED.</text>
<line x1="180.30" y1="1244.20" x2="693.00" y2="1244.20" stroke="#000" stroke-width="1.1" />
</svg></body></html>
